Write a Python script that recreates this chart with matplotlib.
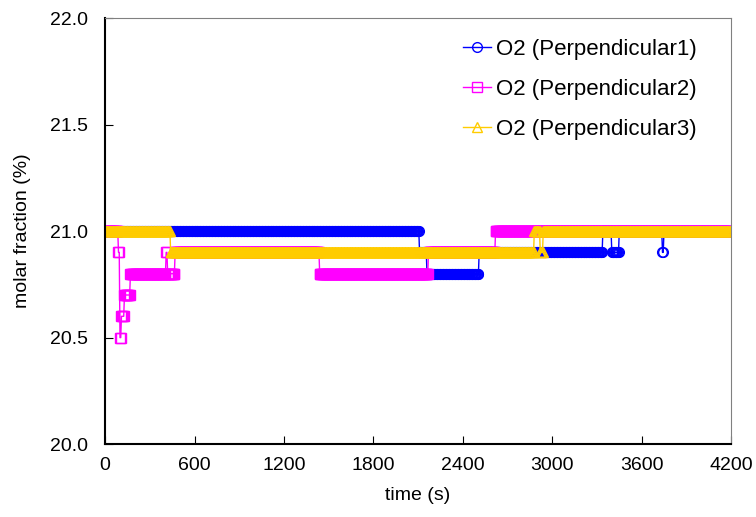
import matplotlib.pyplot as plt
import numpy as np

plt.rcParams['font.family'] = ['Liberation Sans', 'DejaVu Sans']

# 采样时间 (s)
dt = 5
t_end = 4200

# 各测点 O2 摩尔分数: 变化时刻 与 对应数值 (阶跃数据)
p1_t = [0, 2110, 2160, 2510, 3340, 3400, 3450, 3740, 3750]
p1_v = [21.0, 20.9, 20.8, 20.9, 21.0, 20.9, 21.0, 20.9, 21.0]

p2_t = [0, 90, 100, 110, 130, 170, 410, 420, 470, 1440, 2170, 2620]
p2_v = [21.0, 20.9, 20.5, 20.6, 20.7, 20.8, 20.9, 20.8, 20.9, 20.8, 20.9, 21.0]

p3_t = [0, 440, 2880, 2920, 2940]
p3_v = [21.0, 20.9, 21.0, 20.9, 21.0]

labels = ['O2 (Perpendicular1)', 'O2 (Perpendicular2)', 'O2 (Perpendicular3)']
colors = ['#0000FF', '#FF00FF', '#FFCC00']
markers = ['o', 's', '^']

t = np.arange(0, t_end + dt, dt)


def expand(tc, vc):
    idx = np.searchsorted(tc, t, side='right') - 1
    return np.array(vc)[idx]


fig = plt.figure(figsize=(7.56, 5.17), dpi=100)
ax = fig.add_axes([0.139, 0.141, 0.828, 0.824])

for tc, vc, c, m, lab in zip([p1_t, p2_t, p3_t], [p1_v, p2_v, p3_v], colors, markers, labels):
    ax.plot(t, expand(tc, vc), color=c, marker=m, markersize=7, markerfacecolor='none',
            markeredgecolor=c, markeredgewidth=1, linewidth=1, label=lab)

ax.set_xlim(0, 4200)
ax.set_ylim(20.0, 22.0)
ax.set_xticks(np.arange(0, 4201, 600))
ax.set_yticks(np.arange(20.0, 22.01, 0.5))
ax.set_yticklabels(['%.1f' % v for v in np.arange(20.0, 22.01, 0.5)])
ax.tick_params(direction='in', length=6, labelsize=14, top=False, right=False)
ax.tick_params(axis='x', pad=9)
ax.tick_params(axis='y', pad=12)

ax.spines['top'].set_color('gray')
ax.spines['right'].set_color('gray')
for s in ['left', 'bottom']:
    ax.spines[s].set_linewidth(1.5)

ax.set_xlabel('time (s)', fontsize=14, labelpad=10)
ax.set_ylabel('molar fraction (%)', fontsize=14, labelpad=14)

ax.legend(loc='upper right', bbox_to_anchor=(0.96, 0.972), frameon=False, fontsize=16,
          handlelength=1.27, handletextpad=0.25, labelspacing=0.85, borderaxespad=0)

plt.savefig('out.png', dpi=100)
